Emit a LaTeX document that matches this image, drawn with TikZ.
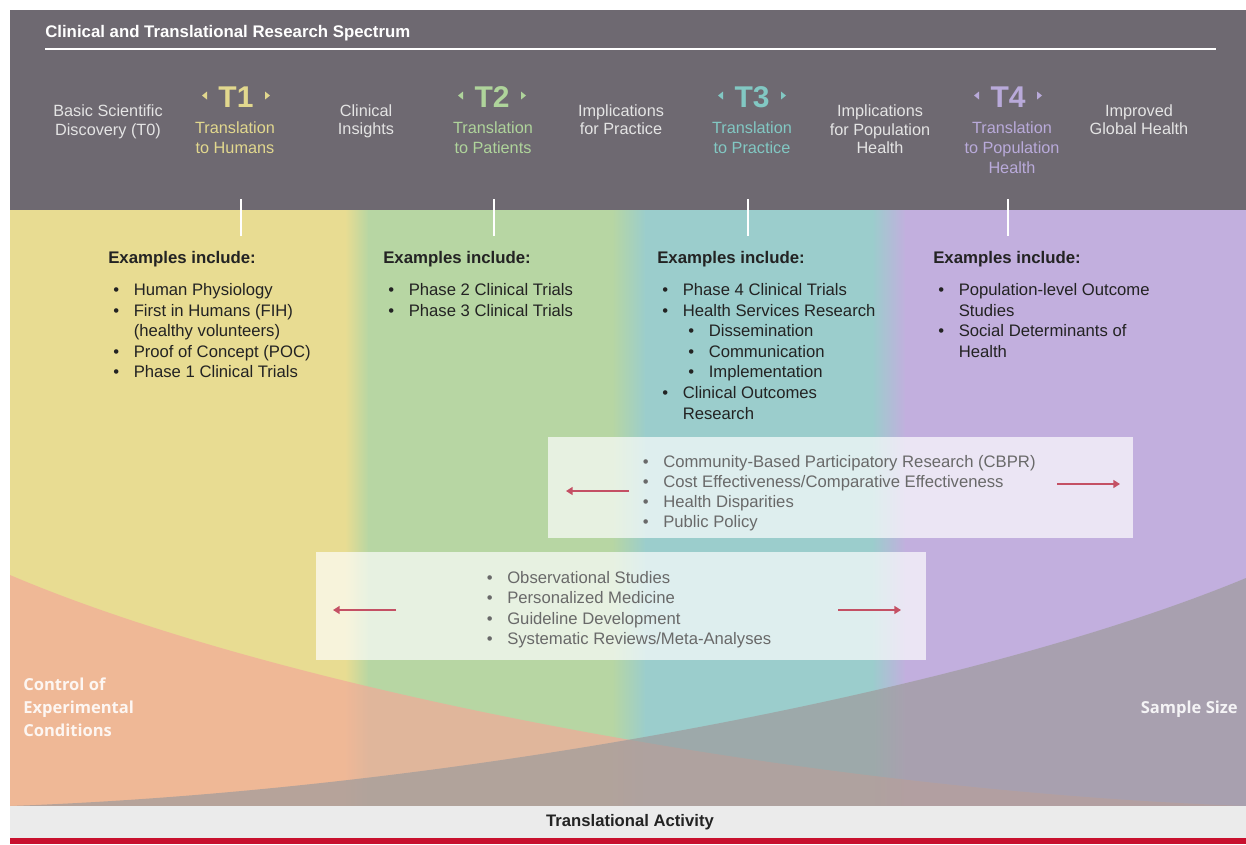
\documentclass[tikz,border=0pt]{standalone}
\usepackage{fontspec}
\setmainfont{Liberation Sans}
\newfontfamily\opensans{Open Sans}
\usetikzlibrary{arrows.meta}
\definecolor{hdr}{RGB}{110,105,113}
\definecolor{hdrfg}{RGB}{228,228,228}
\definecolor{yel}{RGB}{232,220,146}
\definecolor{grn}{RGB}{183,214,163}
\definecolor{tealc}{RGB}{155,205,204}
\definecolor{purp}{RGB}{194,175,222}
\definecolor{tonec}{RGB}{226,216,142}
\definecolor{ttwoc}{RGB}{175,212,155}
\definecolor{tthreec}{RGB}{130,200,195}
\definecolor{tfourc}{RGB}{185,170,218}
\definecolor{orng}{RGB}{242,169,153}
\definecolor{sgray}{RGB}{158,155,156}
\definecolor{boxtxt}{RGB}{105,105,105}
\definecolor{bodytxt}{RGB}{35,35,35}
\definecolor{arrowc}{RGB}{196,80,100}
\definecolor{barc}{RGB}{235,235,235}
\definecolor{redc}{RGB}{200,16,46}
\newcommand\myitem[1]{\llap{\textbullet\hspace{11pt}}#1}
\newcommand\tmark[2]{%
  \fill[#2] ({#1-29},91.5) -- ({#1-29},99.5) -- ({#1-34},95.5) -- cycle;
  \fill[#2] ({#1+29},91.5) -- ({#1+29},99.5) -- ({#1+34},95.5) -- cycle;}
\begin{document}
\begin{tikzpicture}[x=0.75pt,y=-0.75pt,
 lab/.style={anchor=base,inner sep=0,text=hdrfg,font=\fontsize{12.2}{14}\selectfont},
 tlab/.style={anchor=base,inner sep=0,font=\fontsize{22.5}{26}\selectfont\bfseries},
 sublab/.style={anchor=base,inner sep=0,font=\fontsize{12.2}{14}\selectfont},
 exhead/.style={anchor=base west,inner sep=0,text=bodytxt,font=\fontsize{12.6}{15}\selectfont\bfseries},
 li/.style={anchor=base west,inner sep=0,text=bodytxt,font=\fontsize{12.5}{15}\selectfont},
 bli/.style={anchor=base west,inner sep=0,text=boxtxt,font=\fontsize{12.5}{15}\selectfont},
 tickln/.style={draw=white,line width=1.5pt},
 arr/.style={draw=arrowc,line width=1.1pt,-{Triangle[length=5pt,width=6pt]}},
 side/.style={inner sep=0,text=white,text opacity=0.88,font=\opensans\fontsize{12.4}{15}\selectfont\bfseries},
 panel/.style={fill=white,fill opacity=0.68}
]
\useasboundingbox (0,0) rectangle (1246,844);
\fill[white] (0,0) rectangle (1246,844);
% header
\fill[hdr] (10,10) rectangle (1246,210);
% colour bands
\fill[yel] (10,210) rectangle (346,806);
\shade[left color=yel,right color=grn] (345,210) rectangle (369,806);
\fill[grn] (368,210) rectangle (613,806);
\shade[left color=grn,right color=tealc] (612,210) rectangle (646,806);
\fill[tealc] (645,210) rectangle (873,806);
\shade[left color=tealc,right color=purp] (872,210) rectangle (906,806);
\fill[purp] (905,210) rectangle (1246,806);
% overlays
\fill[orng,fill opacity=0.7] (10,575) .. controls (280,690) and (800,790) .. (1246,806) -- (10,806) -- cycle;
\fill[sgray,fill opacity=0.7] (1246,578) .. controls (976,690) and (456,790) .. (10,806) -- (1246,806) -- cycle;
% bottom bar
\fill[barc] (10,806) rectangle (1246,838);
\fill[redc] (10,838) rectangle (1246,844);

% title
\node[anchor=base west,inner sep=0,text=white,font=\fontsize{12.6}{15}\selectfont\bfseries] (title) at (45,37) {Clinical and Translational Research Spectrum};
\coordinate (tla) at (45,49);
\coordinate (tlb) at (1216,49);
\draw[white,line width=1pt] (tla) -- (tlb);

% header labels
\node[lab] (h0a) at (108,116.5) {Basic Scientific};
\node[lab] (h0b) at (108,135.5) {Discovery (T0)};
\tmark{236}{tonec}
\node[tlab,text=tonec] (t1) at (236,107) {T1};
\node[sublab,text=tonec] (t1a) at (235,133.5) {Translation};
\node[sublab,text=tonec] (t1b) at (235,153.5) {to Humans};
\node[lab] (h1a) at (366,116.5) {Clinical};
\node[lab] (h1b) at (366,134.5) {Insights};
\tmark{492}{ttwoc}
\node[tlab,text=ttwoc] (t2) at (492,107) {T2};
\node[sublab,text=ttwoc] (t2a) at (493,133.5) {Translation};
\node[sublab,text=ttwoc] (t2b) at (493,153.5) {to Patients};
\node[lab] (h2a) at (621,116.5) {Implications};
\node[lab] (h2b) at (621,134.5) {for Practice};
\tmark{752}{tthreec}
\node[tlab,text=tthreec] (t3) at (752,107) {T3};
\node[sublab,text=tthreec] (t3a) at (752,133.5) {Translation};
\node[sublab,text=tthreec] (t3b) at (752,153.5) {to Practice};
\node[lab] (h3a) at (880,116.5) {Implications};
\node[lab] (h3b) at (880,135) {for Population};
\node[lab] (h3c) at (880,153.5) {Health};
\tmark{1008}{tfourc}
\node[tlab,text=tfourc] (t4) at (1008,107) {T4};
\node[sublab,text=tfourc] (t4a) at (1012,133.5) {Translation};
\node[sublab,text=tfourc] (t4b) at (1012,153.5) {to Population};
\node[sublab,text=tfourc] (t4c) at (1012,173.5) {Health};
\node[lab] (h4a) at (1139,116.5) {Improved};
\node[lab] (h4b) at (1139,134.5) {Global Health};

% ticks
\coordinate (k1a) at (241,199); \coordinate (k1b) at (241,236);
\coordinate (k2a) at (494,199); \coordinate (k2b) at (494,236);
\coordinate (k3a) at (748,199); \coordinate (k3b) at (748,236);
\coordinate (k4a) at (1008,199); \coordinate (k4b) at (1008,236);
\draw[tickln] (k1a) -- (k1b);
\draw[tickln] (k2a) -- (k2b);
\draw[tickln] (k3a) -- (k3b);
\draw[tickln] (k4a) -- (k4b);

% column 1
\node[exhead] (e1) at (108,263) {Examples include:};
\node[li] (c1a) at (133.5,295.5) {\myitem{Human Physiology}};
\node[li] (c1b) at (133.5,316.1) {\myitem{First in Humans (FIH)}};
\node[li] (c1c) at (133.5,336.7) {(healthy volunteers)};
\node[li] (c1d) at (133.5,357.3) {\myitem{Proof of Concept (POC)}};
\node[li] (c1e) at (133.5,377.9) {\myitem{Phase 1 Clinical Trials}};
% column 2
\node[exhead] (e2) at (383,263) {Examples include:};
\node[li] (c2a) at (408.5,295.5) {\myitem{Phase 2 Clinical Trials}};
\node[li] (c2b) at (408.5,316.1) {\myitem{Phase 3 Clinical Trials}};
% column 3
\node[exhead] (e3) at (657,263) {Examples include:};
\node[li] (c3a) at (682.5,295.5) {\myitem{Phase 4 Clinical Trials}};
\node[li] (c3b) at (682.5,316.1) {\myitem{Health Services Research}};
\node[li] (c3c) at (708.5,336.7) {\myitem{Dissemination}};
\node[li] (c3d) at (708.5,357.3) {\myitem{Communication}};
\node[li] (c3e) at (708.5,377.9) {\myitem{Implementation}};
\node[li] (c3f) at (682.5,398.5) {\myitem{Clinical Outcomes}};
\node[li] (c3g) at (682.5,419.1) {Research};
% column 4
\node[exhead] (e4) at (933,263) {Examples include:};
\node[li] (c4a) at (958.5,295.5) {\myitem{Population-level Outcome}};
\node[li] (c4b) at (958.5,316.1) {Studies};
\node[li] (c4c) at (958.5,336.7) {\myitem{Social Determinants of}};
\node[li] (c4d) at (958.5,357.3) {Health};

% box 1
\fill[panel] (548,437) rectangle (1133,538);
\node[bli] (b1a) at (663,467) {\myitem{Community-Based Participatory Research (CBPR)}};
\node[bli] (b1b) at (663,487) {\myitem{Cost Effectiveness/Comparative Effectiveness}};
\node[bli] (b1c) at (663,507) {\myitem{Health Disparities}};
\node[bli] (b1d) at (663,527) {\myitem{Public Policy}};
\coordinate (a1s) at (629,491); \coordinate (a1e) at (566,491);
\coordinate (a2s) at (1057,484); \coordinate (a2e) at (1120,484);
\draw[arr] (a1s) -- (a1e);
\draw[arr] (a2s) -- (a2e);

% box 2
\fill[panel] (316,552) rectangle (926,660);
\node[bli] (b2a) at (507,583) {\myitem{Observational Studies}};
\node[bli] (b2b) at (507,603) {\myitem{Personalized Medicine}};
\node[bli] (b2c) at (507,624) {\myitem{Guideline Development}};
\node[bli] (b2d) at (507,644) {\myitem{Systematic Reviews/Meta-Analyses}};
\coordinate (a3s) at (396,610); \coordinate (a3e) at (333,610);
\coordinate (a4s) at (838,610); \coordinate (a4e) at (901,610);
\draw[arr] (a3s) -- (a3e);
\draw[arr] (a4s) -- (a4e);

% side labels
\node[side,anchor=base west] (s1) at (23,690) {Control of};
\node[side,anchor=base west] (s2) at (23,713) {Experimental};
\node[side,anchor=base west] (s3) at (23,736) {Conditions};
\node[side,anchor=base east] (s4) at (1238,713) {Sample Size};

% bottom label
\node[anchor=base,inner sep=0,text=bodytxt,font=\fontsize{12.5}{15}\selectfont\bfseries] (ta) at (630,826.5) {Translational Activity};
\end{tikzpicture}
\end{document}
